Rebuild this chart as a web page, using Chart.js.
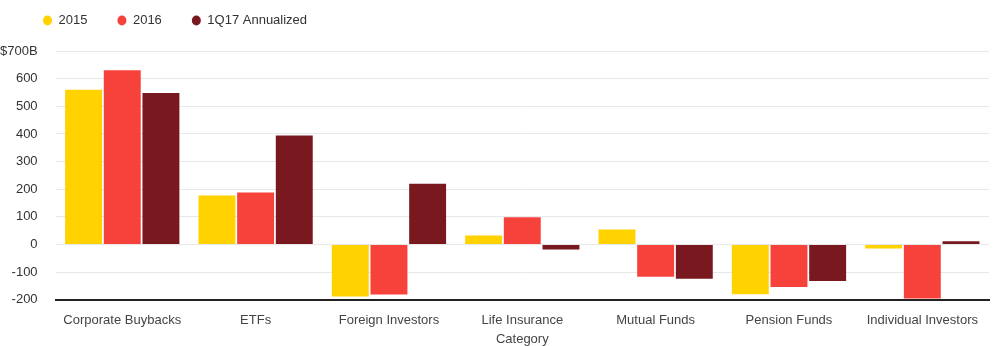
<!DOCTYPE html>
<html>
<head>
<meta charset="utf-8">
<script src="https://cdn.jsdelivr.net/npm/chart.js@4"></script>
<style>
  html, body { margin: 0; padding: 0; background: #fff; }
  #wrap { width: 998px; height: 346px; }
</style>
</head>
<body>
<div id="wrap"><canvas id="chart"></canvas></div>
<script>
const categories = ['Corporate Buybacks', 'ETFs', 'Foreign Investors', 'Life Insurance', 'Mutual Funds', 'Pension Funds', 'Individual Investors'];
const seriesNames = ['2015', '2016', '1Q17 Annualized'];
const values2015 = [560, 177, -188, 33, 54, -180, -14];
const values2016 = [630, 188, -181, 99, -117, -154, -195];
const values1Q17 = [548, 394, 220, -18, -124, -132, 12];
const colors = ['#FFD200', '#F7423B', '#7A1820'];

Chart.defaults.font.family = '"Liberation Sans", Arial, sans-serif';
Chart.defaults.font.size = 13;
Chart.defaults.color = '#444';

// extra room between the legend and the plot, and nudge the legend right
const legendGap = {
    id: 'legendGap',
    beforeInit(chart) {
        const fit = chart.legend.fit;
        chart.legend.fit = function () {
            fit.call(this);
            this.height += 14;
        };
    },
    afterLayout(chart) {
        chart.legend.left += 31;
    }
};

const ctx = document.getElementById('chart').getContext('2d');
new Chart(ctx, {
    type: 'bar',
    data: {
        labels: categories,
        datasets: [values2015, values2016, values1Q17].map((vals, i) => ({
            label: seriesNames[i],
            data: vals,
            backgroundColor: colors[i],
            borderWidth: 0,
            categoryPercentage: 0.87,
            barPercentage: 0.955
        }))
    },
    options: {
        responsive: true,
        maintainAspectRatio: false,
        animation: false,
        layout: { padding: { left: -18, right: 9, top: -16, bottom: -1 } },
        plugins: {
            legend: {
                align: 'start',
                labels: {
                    usePointStyle: true,
                    pointStyle: 'circle',
                    pointStyleWidth: 9,
                    boxHeight: 7,
                    padding: 30,
                    color: '#333'
                }
            },
            tooltip: { enabled: false }
        },
        scales: {
            x: {
                grid: { display: false, drawOnChartArea: false, tickLength: 6, tickColor: '#222' },
                border: { color: '#222', width: 2 },
                ticks: { color: '#444', padding: 7 },
                title: { display: true, text: 'Category', color: '#444', padding: { top: -4, bottom: 0 } }
            },
            y: {
                min: -200,
                max: 700,
                grid: { color: '#e8e8e8', drawTicks: false },
                border: { display: false },
                ticks: {
                    stepSize: 100,
                    padding: 18,
                    color: '#333',
                    callback: v => v === 700 ? '$700B' : v
                }
            }
        }
    },
    plugins: [legendGap]
});
</script>
</body>
</html>
